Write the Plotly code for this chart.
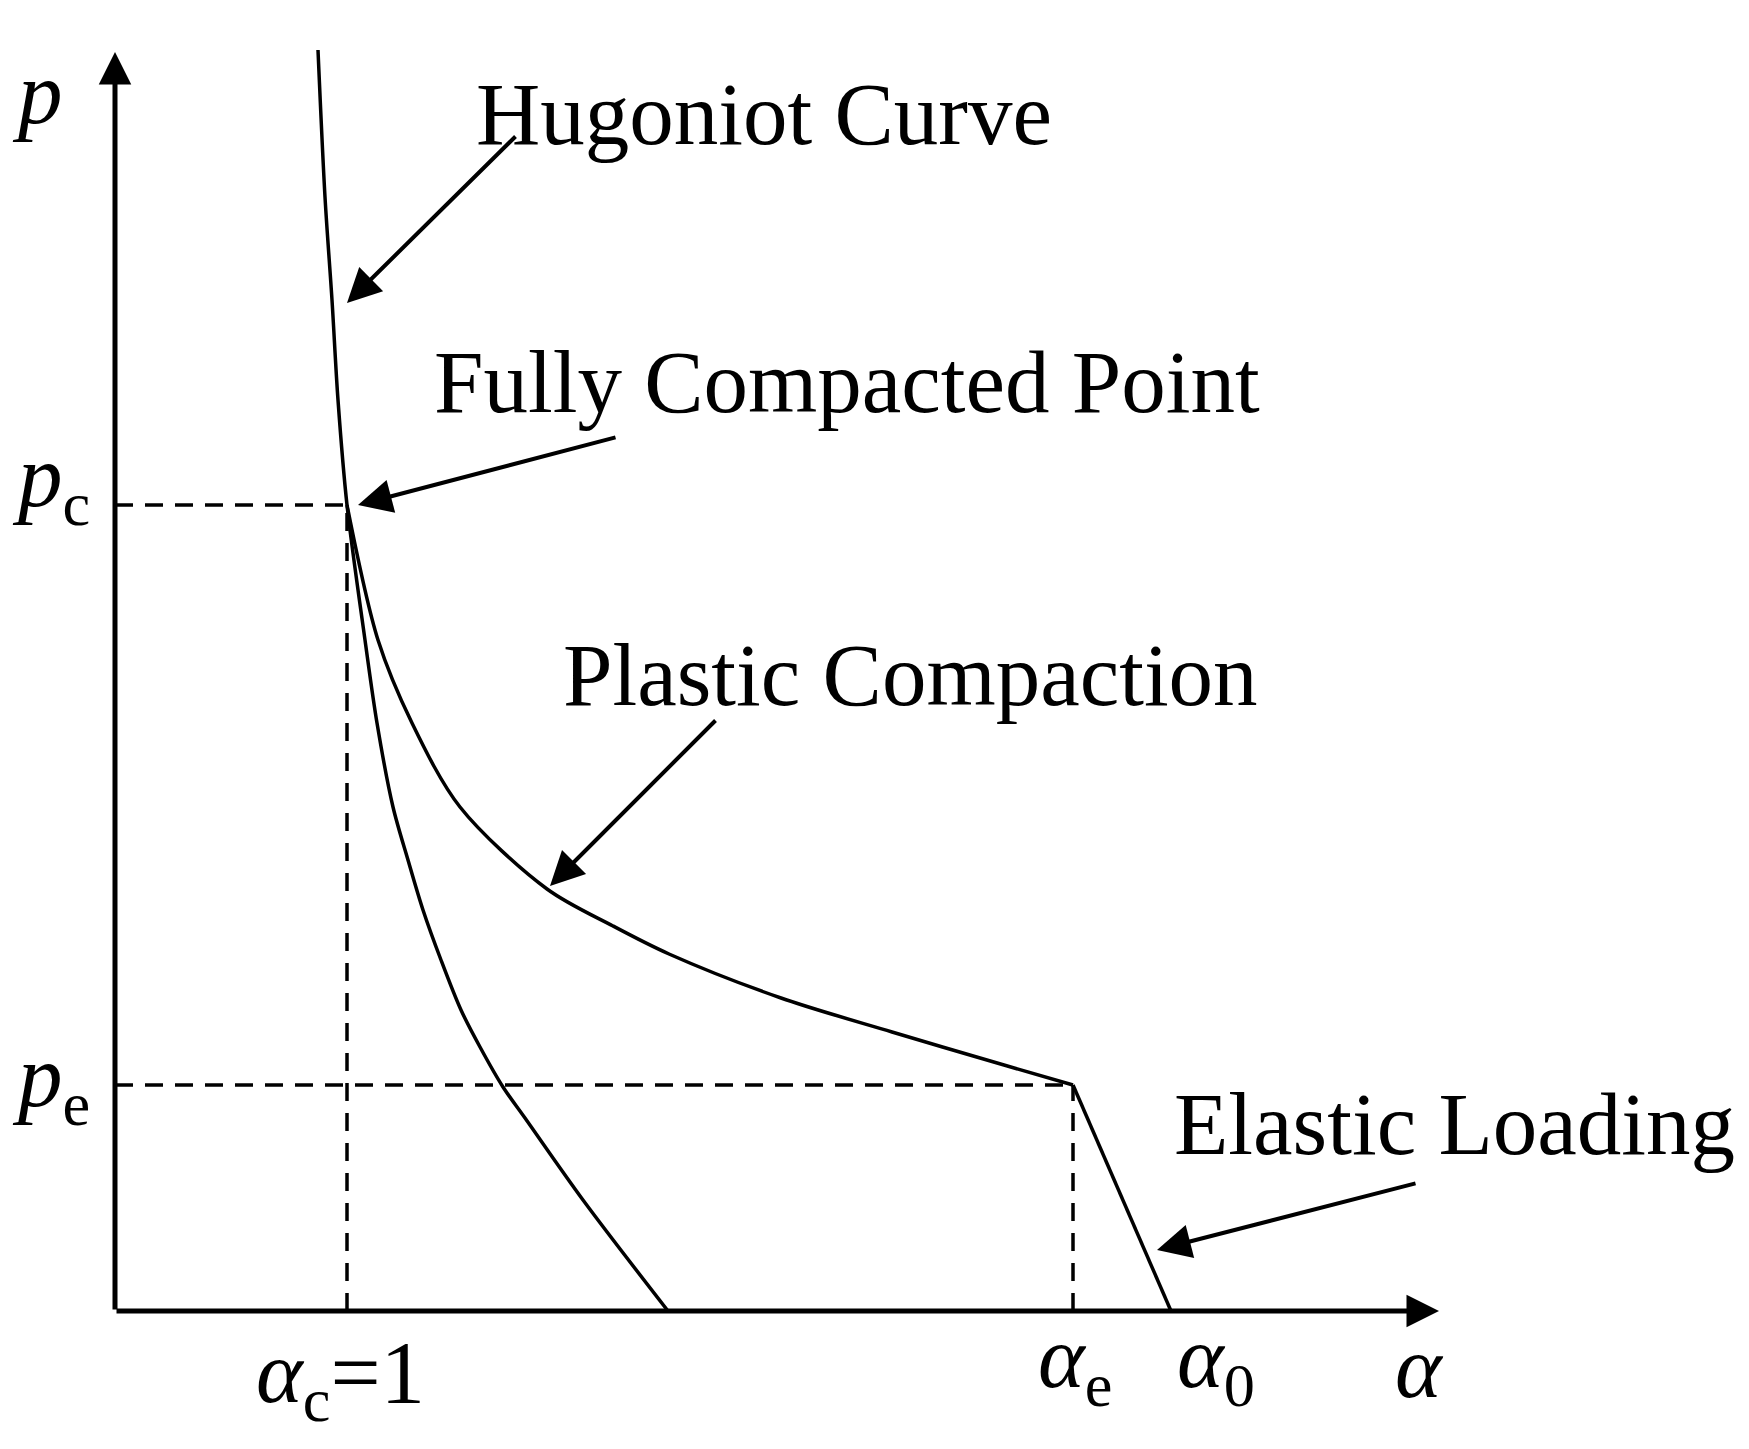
import plotly.graph_objects as go

# Diagram units: alpha axis (horizontal) and p axis (vertical), origin at axes crossing
alpha_c, alpha_e, alpha_0 = 2.32, 9.58, 10.56
p_c, p_e = 8.06, 2.26
alpha_axis_end, p_axis_end = 13.24, 12.59

# Hugoniot curve (upper branch then lower branch through the fully compacted point)
hug_alpha = [2.03, 2.10, 2.17, 2.23, 2.32, 2.50, 2.62, 2.78, 2.93, 3.08, 3.26, 3.46,
             3.65, 3.88, 4.10, 4.68, 5.53]
hug_p = [12.61, 11.14, 10.11, 9.11, 8.06, 6.71, 5.88, 5.04, 4.51, 4.01, 3.51, 3.01,
         2.64, 2.24, 1.93, 1.11, 0.0]

# Plastic compaction curve
plas_alpha = [2.32, 2.63, 2.97, 3.45, 4.32, 4.98, 5.54, 6.66, 7.77, 8.89, 9.58]
plas_p = [8.06, 6.71, 5.88, 5.04, 4.22, 3.85, 3.57, 3.13, 2.79, 2.46, 2.26]

# Elastic loading line
elas_alpha = [alpha_e, alpha_0]
elas_p = [p_e, 0.0]

# Labels with arrows: (text, text_x, text_y, tail_x, tail_y, tip_x, tip_y)
callouts = [
    ("Hugoniot Curve", 3.59, 11.97, 4.02, 11.76, 2.32, 10.08),
    ("Fully Compacted Point", 3.17, 9.29, 5.02, 8.74, 2.43, 8.06),
    ("Plastic Compaction", 4.46, 6.36, 6.02, 5.92, 4.35, 4.25),
    ("Elastic Loading", 10.57, 1.87, 13.02, 1.28, 10.42, 0.61),
]

# Axis symbol labels: (html, x, y)
symbols = [
    ("<i>p</i>", -1.05, 12.18),
    ("<i>p</i><sub>c</sub>", -1.05, 8.29),
    ("<i>p</i><sub>e</sub>", -1.05, 2.29),
    ("<i>α</i><sub>c</sub>=1", 1.39, -0.67),
    ("<i>α</i><sub>e</sub>", 9.21, -0.52),
    ("<i>α</i><sub>0</sub>", 10.60, -0.52),
    ("<i>α</i>", 12.78, -0.56),
]

FONT = "Liberation Serif, Times New Roman, serif"

fig = go.Figure()

dash = "18px,12px"
for xs, ys in [
    ([0, alpha_c], [p_c, p_c]),
    ([0, alpha_e], [p_e, p_e]),
    ([alpha_c, alpha_c], [0, p_c]),
    ([alpha_e, alpha_e], [0, p_e]),
]:
    fig.add_trace(go.Scatter(x=xs, y=ys, mode="lines",
                             line=dict(color="black", width=3.5, dash=dash),
                             hoverinfo="skip", showlegend=False))

fig.add_trace(go.Scatter(x=hug_alpha, y=hug_p, mode="lines",
                         line=dict(color="black", width=3.5, shape="spline", smoothing=0.9),
                         showlegend=False))
fig.add_trace(go.Scatter(x=plas_alpha, y=plas_p, mode="lines",
                         line=dict(color="black", width=3.5, shape="spline", smoothing=0.9),
                         showlegend=False))
fig.add_trace(go.Scatter(x=elas_alpha, y=elas_p, mode="lines",
                         line=dict(color="black", width=3.5),
                         showlegend=False))

annotations = []
# axes with arrowheads
for (tx, ty) in [(0, p_axis_end), (alpha_axis_end, 0)]:
    annotations.append(dict(x=tx, y=ty, ax=0, ay=0, xref="x", yref="y",
                            axref="x", ayref="y", text="", showarrow=True,
                            arrowhead=2, arrowsize=1.3, arrowwidth=5,
                            arrowcolor="black", standoff=0))

for text, txx, tyy, ax_, ay_, hx, hy in callouts:
    annotations.append(dict(x=hx, y=hy, ax=ax_, ay=ay_, xref="x", yref="y",
                            axref="x", ayref="y", text="", showarrow=True,
                            arrowhead=2, arrowsize=1.7, arrowwidth=4,
                            arrowcolor="black", standoff=0))
    annotations.append(dict(x=txx, y=tyy, xref="x", yref="y", text=text,
                            showarrow=False, xanchor="left", yanchor="middle",
                            font=dict(family=FONT, size=89, color="black")))

for text, sx, sy in symbols:
    annotations.append(dict(x=sx, y=sy, xref="x", yref="y", text=text,
                            showarrow=False, xanchor="left", yanchor="middle",
                            font=dict(family=FONT, size=89, color="black")))

# page body has an 8px margin: figure sized to fit the window, ranges offset accordingly
fig.update_layout(
    width=1733, height=1433,
    margin=dict(l=0, r=0, t=0, b=0),
    paper_bgcolor="white", plot_bgcolor="white",
    xaxis=dict(range=[-1.07, 16.26], visible=False, fixedrange=True),
    yaxis=dict(range=[-1.30, 13.03], visible=False, fixedrange=True),
    annotations=annotations,
    showlegend=False,
)

fig.write_html("out.html")
